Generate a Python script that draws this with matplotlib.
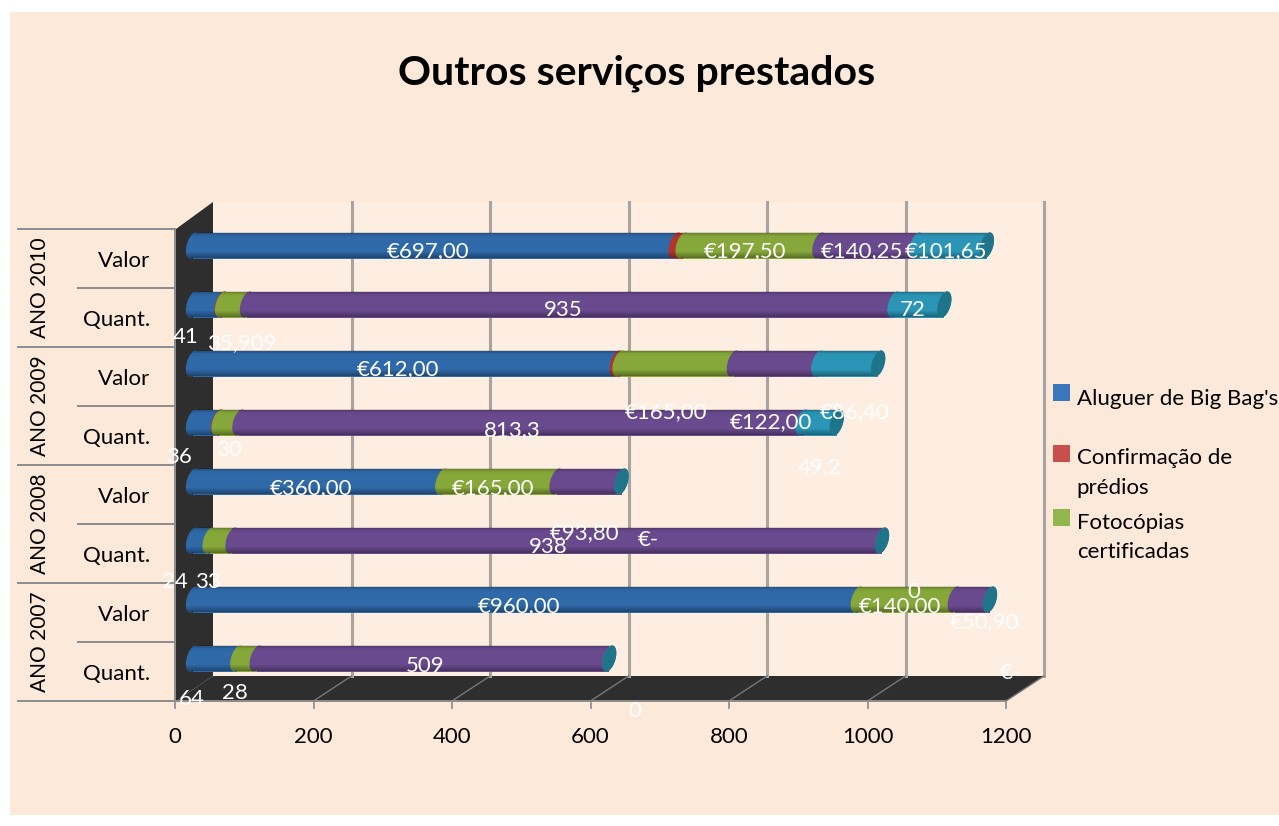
import numpy as np
import matplotlib
matplotlib.use("Agg")
import matplotlib.pyplot as plt
from matplotlib.patches import Rectangle, Polygon
from matplotlib.legend_handler import HandlerPatch
from matplotlib.transforms import Affine2D, blended_transform_factory

W, H = 1279, 826
plt.rcParams['font.family'] = ['Lato', 'DejaVu Sans']

title = "Outros serviços prestados"
row_labels = ["Quant.", "Valor"] * 4
years = ["ANO 2007", "ANO 2008", "ANO 2009", "ANO 2010"]

big_bags = [64, 960, 24, 360, 36, 612, 41, 697]
confirmacao = [0, 0, 0, 0, 1, 4, 1, 10]
fotocopias = [28, 140, 33, 165, 30, 165, 35.909, 197.5]
quarto = [509, 50.9, 938, 93.8, 813.3, 122, 935, 140.25]
quinto = [0, 0, 0, 0, 49.2, 86.4, 72, 101.65]

x_ticks = [0, 200, 400, 600, 800, 1000, 1200]

label_texts = ["€697,00", "€197,50", "€140,25", "€101,65", "41", "35,909", "935", "72",
               "€612,00", "€165,00", "€122,00", "€86,40", "36", "30", "813,3", "49,2",
               "€360,00", "€165,00", "€93,80", "938", "€-", "24", "33", "€960,00",
               "€140,00", "0", "€50,90", "64", "28", "509", "0", "€-"]
label_px = [(428, 251), (745, 251), (862, 251), (946, 251), (186, 337), (242, 343), (563, 310), (913, 310),
            (398, 369), (666, 412), (771, 422), (855, 412), (179, 457), (229, 450), (512, 430), (820, 467),
            (311, 488), (493, 488), (585, 533), (548, 547), (648, 540), (175, 582), (208, 582), (519, 606),
            (900, 606), (914, 592), (985, 622), (192, 699), (235, 693), (425, 666), (635, 711), (1010, 673)]

colors = ["#2f69a8", "#b5322f", "#86a739", "#6a4a8e", "#2a95b6"]
cap_color = "#1f7489"
legend_colors = ["#3b76bd", "#c94f4c", "#92b64e"]
peach = "#fde9d9"
wall_color = "#feeee1"
dark = "#2e2e2e"
grid_gray = "#a8a4a0"
tick_gray = "#8c8c8c"
FS = 16

fig = plt.figure(figsize=(W / 100, H / 100), dpi=100, facecolor="white")
fig.patches.append(Rectangle((10 / W, 1 - 815 / H), (W - 10) / W, 803 / H, transform=fig.transFigure,
                             facecolor=peach, edgecolor="none", zorder=-5))
ax = fig.add_axes([175 / W, (H - 701) / H, 831 / W, 472 / H])
ax.set_facecolor("none")
ax.set_xlim(0, 1200)
ax.set_ylim(-0.5, 7.5)
ux = 831 / 1200   # px per value
uy = 59.0         # px per row


def px(x, y):
    return (x / W, 1 - y / H)


fig_tr = fig.transFigure
for pts, c, z in [([(213, 202), (1044, 202), (1044, 676), (213, 676)], wall_color, 0.1),
                  ([(176, 229), (213, 202), (213, 676), (176, 701)], dark, 0.2),
                  ([(176, 701), (213, 676), (1044, 676), (1006, 701)], dark, 0.2)]:
    ax.add_patch(Polygon([px(*p) for p in pts], closed=True, transform=fig_tr, facecolor=c,
                         edgecolor="none", zorder=z, clip_on=False))

for t in x_ticks[1:]:
    xb = 213 + t * ux
    xf = 175 + t * ux
    ax.plot([px(xb, 202)[0], px(xb, 676)[0]], [px(xb, 202)[1], px(xb, 676)[1]], transform=fig_tr,
            color=grid_gray, lw=2.2, zorder=0.3, clip_on=False)
    ax.plot([px(xf, 701)[0], px(xb, 676)[0]], [px(xf, 701)[1], px(xb, 676)[1]], transform=fig_tr,
            color="#777777", lw=1.0, zorder=0.3, clip_on=False)

shift = ax.transData + Affine2D().translate(18, 13)
bar_h = 26 / uy
rx = 6.5 / ux
ry = bar_h / 2
tilt = 3 / ux


def ell_pts(cx, cy, a, b):
    t = np.linspace(a, b, 40)
    return np.column_stack([cx + rx * np.cos(t) + tilt * np.sin(t), cy + ry * np.sin(t)])


def ell(cx, cy, color, z):
    ax.add_patch(Polygon(ell_pts(cx, cy, 0, 2 * np.pi), closed=True, facecolor=color, edgecolor="none",
                         transform=shift, zorder=z, clip_on=False))


all_series = [big_bags, confirmacao, fotocopias, quarto, quinto]
shade = np.zeros((26, 1, 4))
shade[:, 0, 3] = np.interp(np.arange(26), [0, 3, 6, 19, 25], [0.28, 0.04, 0.0, 0.0, 0.32])
for r in range(8):
    left = 0.0
    z = 2 + r
    for s, vals in enumerate(all_series):
        v = vals[r]
        if v > 0:
            ax.barh(r, v, left=left, height=bar_h, color=colors[s], transform=shift,
                    zorder=z + s * 0.05, clip_on=False)
            ell(left, r, colors[s], z + s * 0.05 + 0.01)
        left += v
    ell(left, r, colors[4], z + 0.3)
    ov = ax.imshow(shade, extent=(-rx - tilt, left + rx + tilt, r - ry, r + ry), aspect="auto",
                   transform=shift, zorder=z + 0.4, interpolation="bilinear")
    sil = Polygon(np.vstack([ell_pts(left, r, -np.pi / 2, np.pi / 2),
                             ell_pts(0, r, np.pi / 2, 3 * np.pi / 2)]), closed=True, transform=shift)
    ov.set_clip_path(sil)
    ov.set_clip_on(True)
    ell(left, r, cap_color, z + 0.5)
ax.set_xlim(0, 1200)
ax.set_ylim(-0.5, 7.5)

for sp in ("top", "right"):
    ax.spines[sp].set_visible(False)
for sp in ("left", "bottom"):
    ax.spines[sp].set_color(tick_gray)
    ax.spines[sp].set_linewidth(1.4)
    ax.spines[sp].set_zorder(1)
ax.set_xticks(x_ticks)
ax.set_xticklabels([str(t) for t in x_ticks], fontsize=FS, color="black")
ax.tick_params(axis="x", length=5.5, width=1.2, color=tick_gray, pad=13.5)
ax.set_yticks([-0.5, 1.5, 3.5, 5.5, 7.5])
ax.set_yticklabels([])
ax.set_yticks([0.5, 2.5, 4.5, 6.5], minor=True)
ax.tick_params(axis="y", which="major", length=158 * 0.72, width=1.4, color=tick_gray)
ax.tick_params(axis="y", which="minor", length=98 * 0.72, width=1.4, color=tick_gray)

side = blended_transform_factory(fig.transFigure, ax.transData)
for r, lab in enumerate(row_labels):
    ax.text(150 / W, r - 0.04, lab, transform=side, ha="right", va="center", fontsize=FS, color="black", clip_on=False)
for i, y in enumerate(years):
    ax.text(40 / W, 2 * i + 0.5, y, transform=side, ha="center", va="center", rotation=90, fontsize=15,
            color="black", clip_on=False)

for t, (x, y) in zip(label_texts, label_px):
    fig.text(x / W, 1 - y / H, t, ha="center", va="center", fontsize=FS, color="white", zorder=10)

fig.text(637 / W, 1 - 73 / H, title, ha="center", va="center", fontsize=29.5, fontweight="bold", color="black")


class FirstLine(HandlerPatch):
    def create_artists(self, legend, orig, xd, yd, width, height, fontsize, trans):
        dy = float(orig.get_gid())
        p = Rectangle((0, dy), width, width, facecolor=orig.get_facecolor(), edgecolor="none", transform=trans)
        return [p]


handles = []
for c, lift in zip(legend_colors, [13.3, 14, 14]):
    h = Rectangle((0, 0), 1, 1, facecolor=c, edgecolor="none")
    h.set_gid(str(lift))
    handles.append(h)
labels = ["Aluguer de Big Bag's\n ", "Confirmação de\nprédios", "Fotocópias\ncertificadas"]
leg = fig.legend(handles, labels, loc="upper left", bbox_to_anchor=(1053 / W, 1 - 389 / H),
                 frameon=False, fontsize=FS, borderaxespad=0, borderpad=0, handlelength=0.76,
                 handletextpad=0.31, labelspacing=0.67, handler_map={Rectangle: FirstLine()})
for t, sp in zip(leg.get_texts(), [1.28, 1.6, 1.6]):
    t.set_linespacing(sp)
    t.set_color("black")

fig.savefig("out.png", dpi=100, facecolor=fig.get_facecolor())
